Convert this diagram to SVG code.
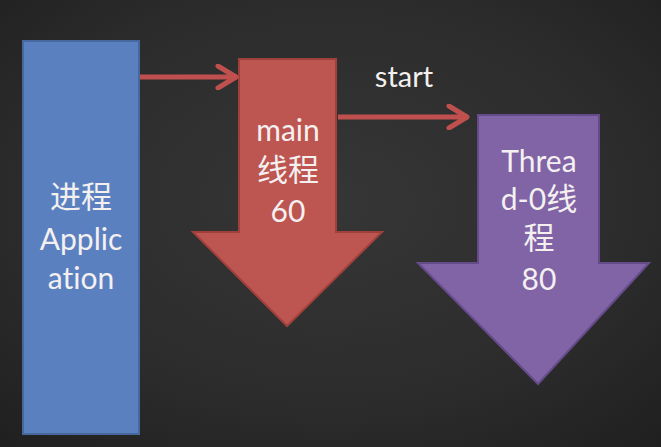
<svg xmlns="http://www.w3.org/2000/svg" width="661" height="447" viewBox="0 0 661 447">
<defs>
<radialGradient id="bg" cx="0.5" cy="0.45" r="0.75">
<stop offset="0" stop-color="#363636"/>
<stop offset="0.6" stop-color="#2c2c2c"/>
<stop offset="1" stop-color="#1f1f1f"/>
</radialGradient>
<marker id="chev" viewBox="0 0 24 26" refX="22" refY="13" markerWidth="24" markerHeight="26" markerUnits="userSpaceOnUse" orient="auto">
<path d="M3,2 L21,13 L3,24" fill="none" stroke="#c0504d" stroke-width="5" stroke-linecap="round" stroke-linejoin="round"/>
</marker>
</defs>
<style>
.lbl{font-family:"Lato","Noto Sans","Noto Sans CJK SC",sans-serif;font-size:30px;fill:#f4f0f0;text-anchor:middle;font-variant-ligatures:none;font-feature-settings:"liga" 0}
.cjk{font-size:31px}
.conn{fill:none;stroke:#c0504d;stroke-width:5}
</style>
<rect width="661" height="447" fill="url(#bg)"/>
<g id="process">
<rect x="23" y="41" width="116" height="393" fill="#5b80c0" stroke="#46689e" stroke-width="2"/>
<text class="lbl cjk" x="81" y="208">进程</text>
<text class="lbl" x="81" y="250">Applic</text>
<text class="lbl" x="81" y="289">ation</text>
</g>
<g id="main-thread">
<path d="M239,59 L336,59 L336,232 L382,232 L287,326 L193,232 L239,232 Z" fill="#bd5551" stroke="#a0403d" stroke-width="2"/>
<text class="lbl" x="288" y="141">main</text>
<text class="lbl cjk" x="288" y="181">线程</text>
<text class="lbl" x="288" y="222">60</text>
</g>
<g id="thread0">
<path d="M478,115 L599,115 L599,263 L649,263 L538,384 L418,263 L478,263 Z" fill="#8064a6" stroke="#654b8a" stroke-width="2"/>
<text class="lbl" x="539" y="172">Threa</text>
<text class="lbl" x="539" y="210">d-0<tspan class="cjk">线</tspan></text>
<text class="lbl cjk" x="539" y="249">程</text>
<text class="lbl" x="539" y="290">80</text>
</g>
<g id="connectors">
<line class="conn" x1="140" y1="77" x2="237" y2="77" marker-end="url(#chev)"/>
<line class="conn" x1="338" y1="117" x2="468" y2="117" marker-end="url(#chev)"/>
<text class="lbl" x="404" y="87" style="font-size:29px">start</text>
</g>
</svg>
